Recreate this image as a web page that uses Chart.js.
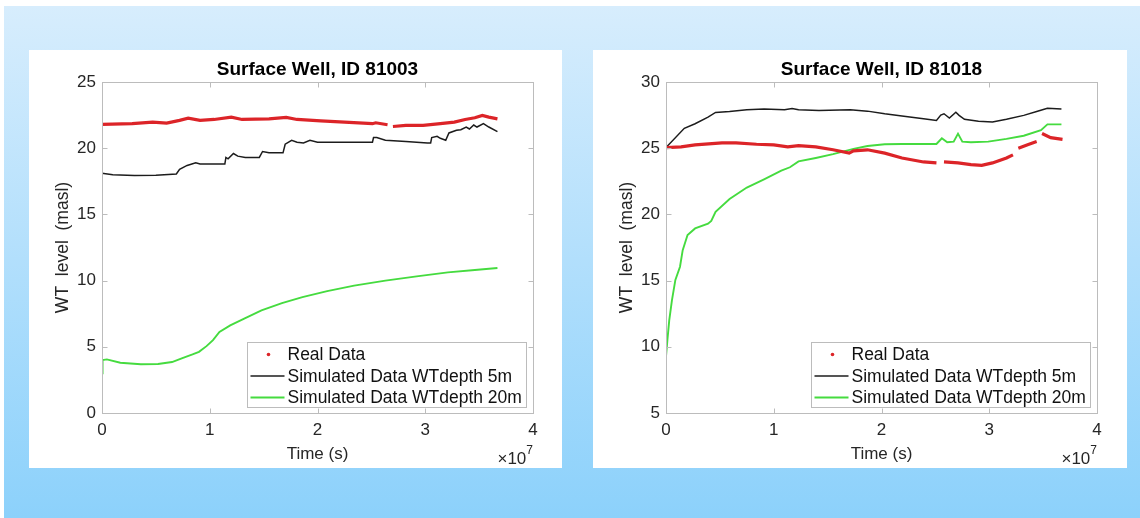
<!DOCTYPE html>
<html>
<head>
<meta charset="utf-8">
<script src="https://cdn.jsdelivr.net/npm/chart.js@4.4.1/dist/chart.umd.min.js"></script>
<style>
  html, body { margin: 0; padding: 0; background: #fff; }
  body { width: 1140px; height: 518px; position: relative; overflow: hidden; }
  .backdrop {
    position: absolute; left: 4px; top: 6px; width: 1136px; height: 512px;
    background: linear-gradient(to bottom, #d7edfd 0%, #8cd1fb 100%);
  }
  .panel { position: absolute; top: 50px; height: 418px; background: #fff; }
  #panelA { left: 29px; width: 533px; }
  #panelB { left: 593px; width: 534px; }
  canvas { display: block; }
</style>
</head>
<body>
<div class="backdrop"></div>
<div class="panel" id="panelA"><canvas id="well81003" width="533" height="418"></canvas></div>
<div class="panel" id="panelB"><canvas id="well81018" width="534" height="418"></canvas></div>

<script>
// time axis values are in units of 1e7 s
const seriesNames = ['Real Data', 'Simulated Data WTdepth 5m', 'Simulated Data WTdepth 20m'];
const seriesColors = ['#dc2428', '#1c1c1c', '#45db3f'];
const timeTicks = [0, 1, 2, 3, 4];

// well 81003
const real81003T = [0, 0.28, 0.47, 0.6, 0.72, 0.8, 0.91, 1.04, 1.2, 1.3, 1.55, 1.71, 1.81, 2.03, 2.25, 2.51, 2.54, 2.65, 2.67, 2.7, 2.82, 2.98, 3.14, 3.27, 3.37, 3.46, 3.53, 3.59, 3.67];
const real81003 = [21.8, 21.85, 21.97, 21.9, 22.1, 22.27, 22.1, 22.17, 22.35, 22.17, 22.22, 22.32, 22.17, 22.07, 21.97, 21.85, 21.92, 21.77, null, 21.64, 21.72, 21.72, 21.85, 21.97, 22.17, 22.3, 22.47, 22.35, 22.22];
const sim5m81003T = [0, 0.1, 0.3, 0.5, 0.69, 0.72, 0.79, 0.87, 0.91, 0.98, 1.14, 1.15, 1.17, 1.22, 1.26, 1.33, 1.46, 1.49, 1.55, 1.68, 1.7, 1.76, 1.81, 1.87, 1.93, 2.0, 2.19, 2.51, 2.52, 2.55, 2.63, 2.82, 3.02, 3.05, 3.06, 3.11, 3.14, 3.19, 3.22, 3.29, 3.33, 3.38, 3.41, 3.45, 3.48, 3.54, 3.59, 3.67];
const sim5m81003 = [18.1, 18.0, 17.93, 17.95, 18.05, 18.4, 18.7, 18.9, 18.8, 18.8, 18.8, 19.3, 19.2, 19.6, 19.4, 19.3, 19.3, 19.75, 19.65, 19.65, 20.3, 20.6, 20.45, 20.4, 20.6, 20.45, 20.45, 20.45, 20.8, 20.8, 20.6, 20.5, 20.4, 20.4, 20.8, 20.9, 20.75, 20.6, 21.15, 21.35, 21.4, 21.6, 21.45, 21.75, 21.6, 21.85, 21.6, 21.25];
const sim20m81003T = [0, 0.005, 0.045, 0.17, 0.36, 0.52, 0.65, 0.74, 0.84, 0.9, 0.97, 1.03, 1.09, 1.19, 1.32, 1.48, 1.67, 1.86, 2.09, 2.34, 2.63, 2.92, 3.21, 3.46, 3.67];
const sim20m81003 = [3.0, 4.0, 4.05, 3.8, 3.68, 3.7, 3.85, 4.12, 4.42, 4.62, 5.05, 5.5, 6.12, 6.62, 7.12, 7.75, 8.3, 8.75, 9.2, 9.62, 10.0, 10.32, 10.62, 10.8, 10.95];
const levelTicks81003 = [0, 5, 10, 15, 20, 25];

// well 81018
const real81018T = [0, 0.14, 0.27, 0.52, 0.65, 0.84, 1.0, 1.13, 1.23, 1.39, 1.55, 1.7, 1.74, 1.87, 2.03, 2.19, 2.39, 2.51, 2.54, 2.58, 2.71, 2.83, 2.93, 3.03, 3.16, 3.22, 3.245, 3.27, 3.35, 3.44, 3.465, 3.49, 3.57, 3.68];
const real81018 = [25.05, 25.1, 25.25, 25.4, 25.4, 25.3, 25.25, 25.1, 25.2, 25.1, 24.88, 24.63, 24.8, 24.88, 24.63, 24.26, 23.96, 23.89, null, 23.96, 23.89, 23.76, 23.71, 23.89, 24.26, 24.5, null, 25.0, 25.25, 25.5, null, 26.11, 25.8, 25.67];
const sim5m81018T = [0, 0.17, 0.27, 0.39, 0.46, 0.59, 0.75, 0.91, 1.1, 1.17, 1.23, 1.42, 1.71, 1.87, 2.03, 2.19, 2.39, 2.51, 2.55, 2.58, 2.63, 2.69, 2.72, 2.77, 2.9, 3.03, 3.16, 3.32, 3.44, 3.54, 3.67];
const sim5m81018 = [25.05, 26.5, 26.85, 27.35, 27.7, 27.77, 27.9, 27.97, 27.9, 28.0, 27.9, 27.85, 27.9, 27.8, 27.6, 27.43, 27.23, 27.1, 27.5, 27.6, 27.28, 27.72, 27.48, 27.18, 27.03, 26.98, 27.18, 27.48, 27.77, 28.02, 27.97];
const sim20m81018T = [0, 0.013, 0.03, 0.055, 0.087, 0.13, 0.155, 0.2, 0.27, 0.39, 0.42, 0.46, 0.59, 0.75, 0.91, 1.07, 1.15, 1.23, 1.39, 1.55, 1.74, 1.87, 2.03, 2.19, 2.51, 2.56, 2.61, 2.67, 2.71, 2.75, 2.83, 2.99, 3.16, 3.32, 3.48, 3.54, 3.67];
const sim20m81018 = [9.27, 10.5, 12.0, 13.5, 15.05, 16.05, 17.3, 18.44, 18.94, 19.3, 19.5, 20.2, 21.16, 22.03, 22.65, 23.3, 23.56, 24.0, 24.26, 24.55, 24.95, 25.17, 25.3, 25.32, 25.32, 25.75, 25.45, 25.5, 26.1, 25.5, 25.45, 25.5, 25.7, 25.94, 26.36, 26.8, 26.8];
const levelTicks81018 = [5, 10, 15, 20, 25, 30];

const FONT = '"Liberation Sans", Arial, Helvetica, sans-serif';
const INK = '#262626';
const FRAME = '#bcbcbc';

function pairs(ts, vs) {
  return ts.map((t, i) => ({ x: t, y: vs[i] }));
}

// box around the axes with inward ticks, legend box and the x10^7 multiplier
const matlabFrame = {
  id: 'matlabFrame',
  afterDatasetsDraw(chart) {
    const { ctx, chartArea: a, scales } = chart;
    const L = Math.round(a.left) + 0.5, R = Math.round(a.right) + 0.5;
    const T = Math.round(a.top) + 0.5, B = Math.round(a.bottom) + 0.5;
    ctx.save();
    ctx.strokeStyle = FRAME;
    ctx.lineWidth = 1;
    ctx.strokeRect(L, T, R - L, B - T);
    ctx.beginPath();
    scales.x.ticks.forEach(t => {
      const px = Math.round(scales.x.getPixelForValue(t.value)) + 0.5;
      ctx.moveTo(px, B); ctx.lineTo(px, B - 5);
      ctx.moveTo(px, T); ctx.lineTo(px, T + 5);
    });
    scales.y.ticks.forEach(t => {
      const py = Math.round(scales.y.getPixelForValue(t.value)) + 0.5;
      ctx.moveTo(L, py); ctx.lineTo(L + 5, py);
      ctx.moveTo(R, py); ctx.lineTo(R - 5, py);
    });
    ctx.stroke();
    ctx.restore();
  },
  afterDraw(chart) {
    const { ctx, chartArea: a } = chart;
    ctx.save();

    // legend, lower right corner
    ctx.font = '17.5px ' + FONT;
    const textW = Math.max(...seriesNames.map(n => ctx.measureText(n).width));
    const w = Math.round(40 + textW + 5), h = 65;
    const x0 = Math.round(a.right - 7 - w) + 0.5, y0 = Math.round(a.bottom - 6 - h) + 0.5;
    ctx.fillStyle = '#fff';
    ctx.fillRect(x0, y0, w, h);
    ctx.strokeStyle = FRAME;
    ctx.lineWidth = 1;
    ctx.strokeRect(x0, y0, w, h);
    ctx.textBaseline = 'middle';
    ctx.textAlign = 'left';
    seriesNames.forEach((name, i) => {
      const cy = y0 + 12 + i * 21.5;
      if (i === 0) {
        ctx.fillStyle = seriesColors[0];
        ctx.beginPath();
        ctx.arc(x0 + 21, cy, 1.8, 0, Math.PI * 2);
        ctx.fill();
      } else {
        ctx.strokeStyle = seriesColors[i];
        ctx.lineWidth = i === 2 ? 2 : 1.5;
        ctx.beginPath();
        ctx.moveTo(x0 + 3, cy);
        ctx.lineTo(x0 + 37, cy);
        ctx.stroke();
      }
      ctx.fillStyle = '#111';
      ctx.fillText(name, x0 + 40, cy + 1);
    });

    // exponent of the time axis
    ctx.fillStyle = INK;
    ctx.textAlign = 'right';
    ctx.textBaseline = 'alphabetic';
    ctx.font = '12px ' + FONT;
    const supW = ctx.measureText('7').width;
    ctx.fillText('7', a.right, a.bottom + 41);
    ctx.font = '17px ' + FONT;
    ctx.fillText('\u00d710', a.right - supW, a.bottom + 51);
    ctx.restore();
  }
};

function buildWell(canvasId, title, rightPad, levelTicks, series) {
  const datasets = series.map((s, i) => ({
    label: seriesNames[i],
    data: pairs(s.t, s.v),
    borderColor: seriesColors[i],
    borderWidth: i === 0 ? 3.2 : (i === 1 ? 1.5 : 1.9),
    pointRadius: 0,
    tension: 0,
    spanGaps: false,
    fill: false
  }));
  return new Chart(document.getElementById(canvasId), {
    type: 'line',
    data: { datasets },
    options: {
      responsive: false,
      animation: false,
      events: [],
      layout: { padding: { left: 0, right: rightPad, top: 0, bottom: 0 } },
      plugins: {
        legend: { display: false },
        tooltip: { enabled: false },
        title: {
          display: true,
          text: title,
          fullSize: false,
          color: '#000',
          font: { family: FONT, size: 19, weight: 'bold', lineHeight: 1.2 },
          padding: { top: 8.6, bottom: 0.6 }
        }
      },
      scales: {
        x: {
          type: 'linear',
          min: timeTicks[0],
          max: timeTicks[timeTicks.length - 1],
          afterBuildTicks: sc => { sc.ticks = timeTicks.map(v => ({ value: v })); },
          ticks: { color: INK, padding: 7, maxRotation: 0, font: { family: FONT, size: 17 } },
          grid: { display: false, drawTicks: false },
          border: { display: false },
          title: {
            display: true, text: 'Time (s)', color: INK,
            font: { family: FONT, size: 17, lineHeight: 1.2 },
            padding: { top: 0, bottom: 3 }
          },
          afterFit: sc => { sc.height = 55; }
        },
        y: {
          type: 'linear',
          min: levelTicks[0],
          max: levelTicks[levelTicks.length - 1],
          afterBuildTicks: sc => { sc.ticks = levelTicks.map(v => ({ value: v })); },
          ticks: { color: INK, padding: 6, font: { family: FONT, size: 17 } },
          grid: { display: false, drawTicks: false },
          border: { display: false },
          title: {
            display: true, text: 'WT  level  (masl)', color: INK,
            font: { family: FONT, size: 17.5, lineHeight: 1.2 },
            padding: { top: 24, bottom: 0 }
          },
          afterFit: sc => { sc.width = 73; }
        }
      }
    },
    plugins: [matlabFrame]
  });
}

buildWell('well81003', 'Surface Well, ID 81003', 29, levelTicks81003, [
  { t: real81003T, v: real81003 },
  { t: sim5m81003T, v: sim5m81003 },
  { t: sim20m81003T, v: sim20m81003 }
]);

buildWell('well81018', 'Surface Well, ID 81018', 30, levelTicks81018, [
  { t: real81018T, v: real81018 },
  { t: sim5m81018T, v: sim5m81018 },
  { t: sim20m81018T, v: sim20m81018 }
]);
</script>
</body>
</html>
